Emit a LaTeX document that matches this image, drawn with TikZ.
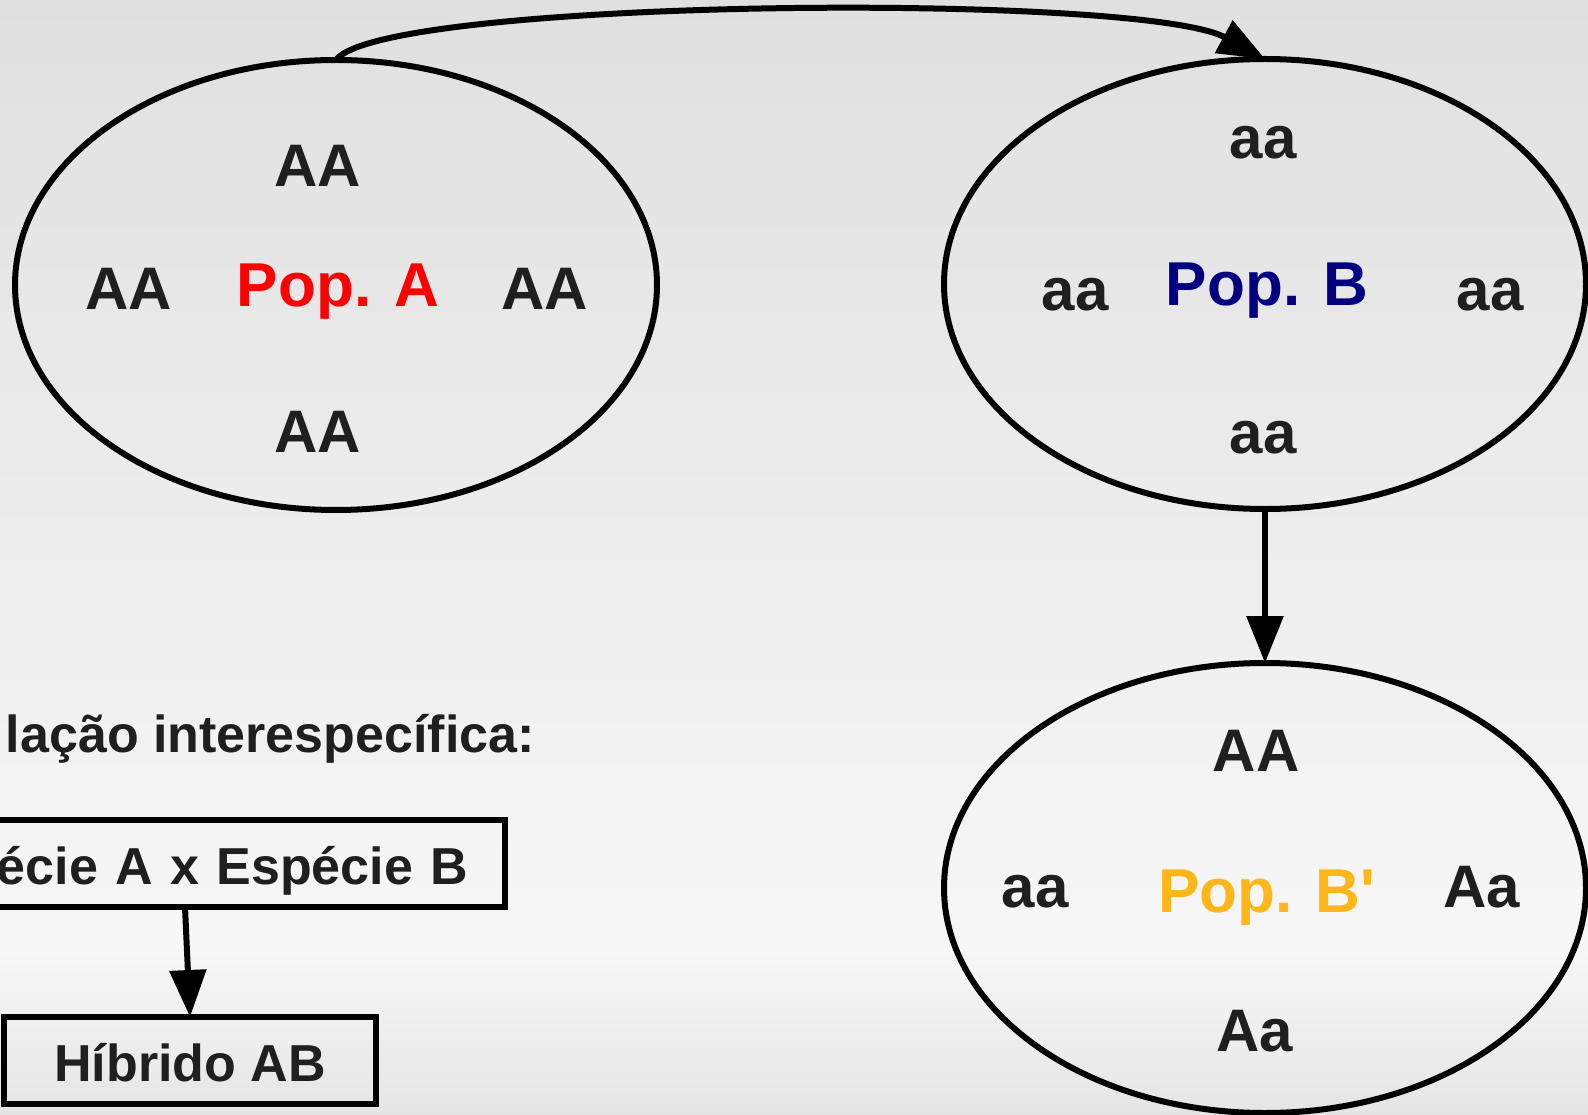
\documentclass[tikz,border=0pt]{standalone}
\usepackage{fontspec}
\setmainfont{Liberation Sans}
\usetikzlibrary{arrows.meta}
\usetikzlibrary{shapes.geometric}
\definecolor{texto}{HTML}{1F1F1F}
\definecolor{popvermelho}{HTML}{FF0000}
\definecolor{popazul}{HTML}{000080}
\definecolor{poplaranja}{HTML}{FFB618}
\definecolor{fundoescuro}{HTML}{E0E0E0}
\definecolor{fundoclaro}{HTML}{F7F7F7}
\definecolor{fundobaixo}{HTML}{E5E5E5}

\begin{document}
\begin{tikzpicture}[x=1pt,y=-1pt]
	\tikzstyle{seta}=[line width=6pt,-{Triangle[length=47pt,width=36pt]}]
	\tikzset{populacao/.style={draw,ellipse,line width=6pt,inner sep=0,outer sep=0,minimum width=642pt,minimum height=450pt}}
	\tikzset{genotipo/.style={anchor=base,inner sep=0,text=texto,font=\bfseries\fontsize{60}{72}\selectfont}}
	\tikzset{rotulo/.style={anchor=base,inner sep=0,font=\bfseries\fontsize{62}{74}\selectfont}}
	\tikzset{caixa/.style={draw,rectangle,line width=6pt,outer sep=0,inner ysep=0,minimum height=87pt,text height=50pt,text depth=9pt,text=texto,font=\bfseries\fontsize{52}{62}\selectfont}}
	% fundo
	\useasboundingbox (0,0) rectangle (1588,1115);
	\clip (0,0) rectangle (1588,1115);
	\shade[top color=fundoescuro,bottom color=fundoclaro] (0,0) rectangle (1588,950);
	\shade[top color=fundoclaro,bottom color=fundobaixo] (0,950) rectangle (1588,1115);
	% populacoes
	\node[populacao] (popA) at (336,285) {};
	\node[populacao] (popB) at (1265,284) {};
	\node[populacao] (popBl) at (1265,888) {};
	\node[genotipo] (a1) at (318,187) {AA};
	\node[genotipo] (a2) at (129,310) {AA};
	\node[genotipo] (a3) at (545,310) {AA};
	\node[genotipo] (a4) at (318,452) {AA};
	\node[rotulo,text=popvermelho] (nomeA) at (338,307) {Pop. A};
	\node[genotipo] (b1) at (1263,159) {aa};
	\node[genotipo] (b2) at (1075,311) {aa};
	\node[genotipo] (b3) at (1490,311) {aa};
	\node[genotipo] (b4) at (1263,453) {aa};
	\node[rotulo,text=popazul] (nomeB) at (1267,306) {Pop. B};
	\node[genotipo] (c1) at (1256,771) {AA};
	\node[genotipo] (c2) at (1035,907) {aa};
	\node[genotipo] (c3) at (1482,907) {Aa};
	\node[genotipo] (c4) at (1255,1051) {Aa};
	\node[rotulo,text=poplaranja] (nomeBl) at (1267,912) {Pop. B\textquotesingle};
	\draw[seta] (popA.north) .. controls +(45,-62) and +(-124,-67) .. (popB.north);
	\draw[seta] (popB.south) -- (popBl.north);
	% hibridacao
	\node[anchor=base east,inner sep=0,text=texto,font=\bfseries\fontsize{52}{62}\selectfont] (titulo) at (535,752) {lação interespecífica:};
	\node[caixa,anchor=east,text width=566pt,align=right,inner xsep=37pt] (cruz) at (505,863.5) {écie A x Espécie B};
	\node[caixa,minimum width=372pt,inner xsep=0] (hibrido) at (190,1060.5) {Híbrido AB};
	\draw[seta] (cruz.south) -- (hibrido.north);
\end{tikzpicture}
\end{document}
